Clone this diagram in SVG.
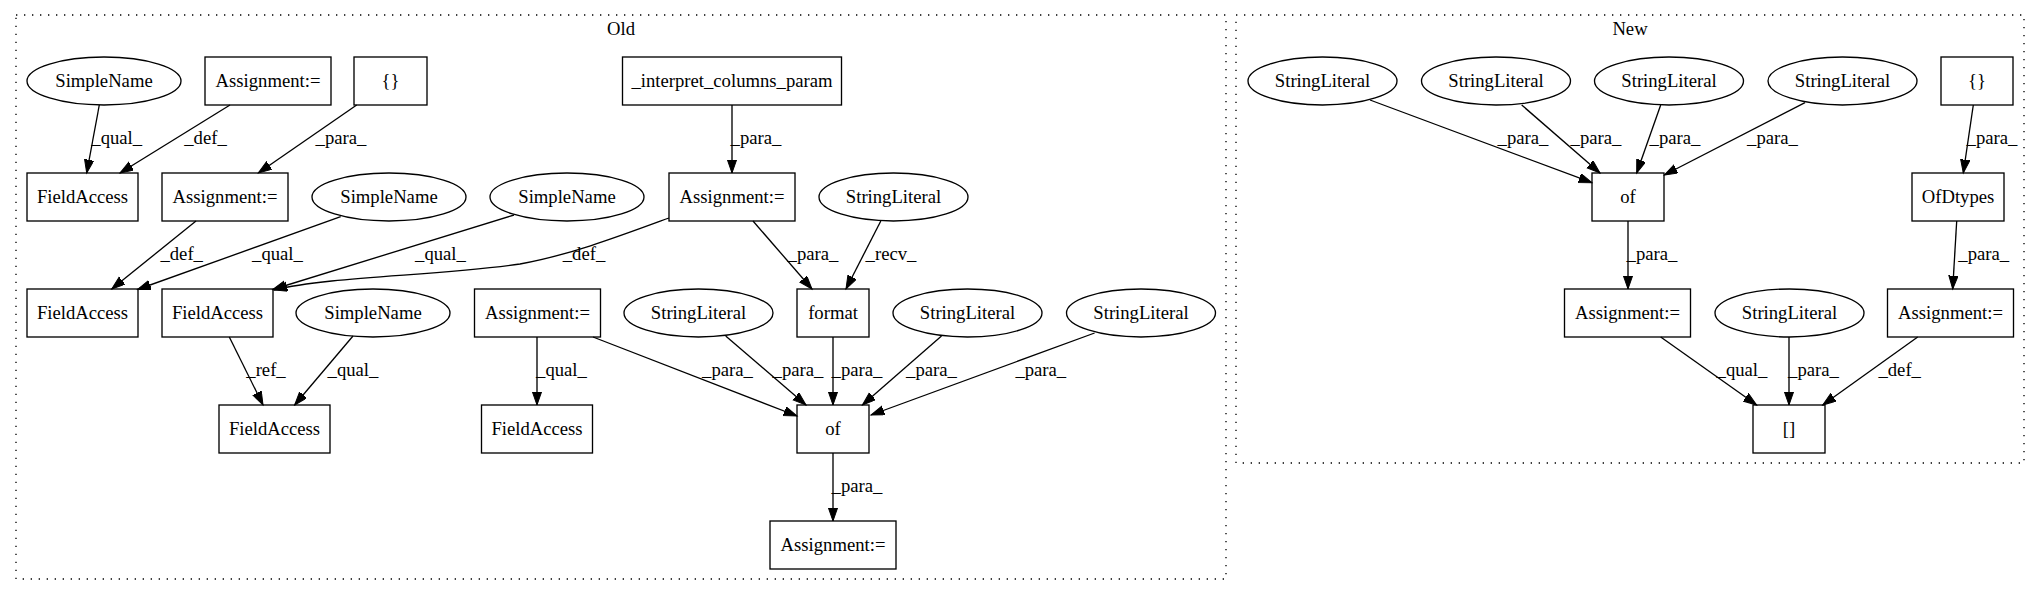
<svg xmlns="http://www.w3.org/2000/svg" width="2040" height="596" viewBox="0 0 2040 596">
<style>
text{font-family:"Liberation Serif","Times New Roman",serif;font-size:18.67px;fill:#000;text-anchor:middle}
.n{fill:none;stroke:#000;stroke-width:1.33}
.cl{fill:none;stroke:#000;stroke-width:1.33;stroke-dasharray:1.33,6.67}
.e path{fill:none;stroke:#000;stroke-width:1.33;marker-end:url(#ah)}
</style>
<defs>
<marker id="ah" markerUnits="userSpaceOnUse" markerWidth="15" markerHeight="11" refX="13.33" refY="4.67" orient="auto">
<path d="M0,0 L13.33,4.67 L0,9.33 z" fill="#000" stroke="#000" stroke-width="1"/>
</marker>
</defs>
<rect x="0" y="0" width="2040" height="596" fill="#fff"/>
<g id="cluster_old">
<rect class="cl" x="16" y="15" width="1210" height="564"/>
<text x="621" y="35">Old</text>
</g>
<g id="cluster_new">
<rect class="cl" x="1236" y="15" width="788" height="448"/>
<text x="1630" y="35">New</text>
</g>
<g id="edges" class="e">
<path d="M99.3,105 L86.7,173"/>
<path d="M230,105 L120,173"/>
<path d="M356.7,105 L258.3,173"/>
<path d="M732,105 L732,173"/>
<path d="M196,221 L111.7,289"/>
<path d="M340.7,216.7 L137.5,289.5"/>
<path d="M514,215 L272.7,289.5"/>
<path d="M669,218 C620,236 570,255 520,264 C440,276 330,276 274,290"/>
<path d="M753,221 L812,289"/>
<path d="M880.8,221 L846,289"/>
<path d="M229.3,337 L263,405"/>
<path d="M353,336 L294.6,405"/>
<path d="M537,337 L537,405"/>
<path d="M593,337 L797,416"/>
<path d="M725.7,336 L806,405"/>
<path d="M833,337 L833,405"/>
<path d="M941.5,336 L862.4,405"/>
<path d="M1094.6,333 L871,415"/>
<path d="M833,453 L833,521"/>
<path d="M1370,100 L1592,182.7"/>
<path d="M1521.7,105 L1600,173"/>
<path d="M1660.7,105 L1636.7,173"/>
<path d="M1805,102.7 L1664.3,175"/>
<path d="M1973.3,105 L1963.3,173"/>
<path d="M1628,221 L1628,289"/>
<path d="M1956.7,221 L1952.7,289"/>
<path d="M1660.7,337 L1756.7,405"/>
<path d="M1789,337 L1789,405"/>
<path d="M1917.7,337 L1822.7,405"/>
<text x="116.7" y="144">_qual_</text>
<text x="205.5" y="144">_def_</text>
<text x="341" y="144">_para_</text>
<text x="756" y="144">_para_</text>
<text x="181.7" y="260">_def_</text>
<text x="277.5" y="260">_qual_</text>
<text x="440.5" y="260">_qual_</text>
<text x="584" y="260">_def_</text>
<text x="813" y="260">_para_</text>
<text x="891" y="260">_recv_</text>
<text x="266" y="376">_ref_</text>
<text x="353" y="376">_qual_</text>
<text x="561.5" y="376">_qual_</text>
<text x="727.5" y="376">_para_</text>
<text x="798" y="376">_para_</text>
<text x="857" y="376">_para_</text>
<text x="931.5" y="376">_para_</text>
<text x="1040.8" y="376">_para_</text>
<text x="857" y="492">_para_</text>
<text x="1523" y="144">_para_</text>
<text x="1596" y="144">_para_</text>
<text x="1675" y="144">_para_</text>
<text x="1772.5" y="144">_para_</text>
<text x="1992" y="144">_para_</text>
<text x="1652" y="260">_para_</text>
<text x="1983.7" y="260">_para_</text>
<text x="1742" y="376">_qual_</text>
<text x="1813.5" y="376">_para_</text>
<text x="1899.7" y="376">_def_</text>
</g>
<g id="o1"><ellipse class="n" cx="104" cy="81" rx="77" ry="24"/><text x="104" y="87">SimpleName</text></g>
<g id="o2"><rect class="n" x="205" y="57" width="126" height="48"/><text x="268" y="87">Assignment:=</text></g>
<g id="o3"><rect class="n" x="354" y="57" width="73" height="48"/><text x="390.5" y="87">{}</text></g>
<g id="o4"><rect class="n" x="622.5" y="57" width="219" height="48"/><text x="732" y="87">_interpret_columns_param</text></g>
<g id="o5"><rect class="n" x="27" y="173" width="111" height="48"/><text x="82.5" y="203">FieldAccess</text></g>
<g id="o6"><rect class="n" x="162" y="173" width="126" height="48"/><text x="225" y="203">Assignment:=</text></g>
<g id="o7"><ellipse class="n" cx="389" cy="197" rx="77" ry="24"/><text x="389" y="203">SimpleName</text></g>
<g id="o8"><ellipse class="n" cx="567" cy="197" rx="77" ry="24"/><text x="567" y="203">SimpleName</text></g>
<g id="o9"><rect class="n" x="669" y="173" width="126" height="48"/><text x="732" y="203">Assignment:=</text></g>
<g id="o10"><ellipse class="n" cx="893.5" cy="197" rx="74.5" ry="24"/><text x="893.5" y="203">StringLiteral</text></g>
<g id="o11"><rect class="n" x="27" y="289" width="111" height="48"/><text x="82.5" y="319">FieldAccess</text></g>
<g id="o12"><rect class="n" x="162" y="289" width="111" height="48"/><text x="217.5" y="319">FieldAccess</text></g>
<g id="o13"><ellipse class="n" cx="373" cy="313" rx="77" ry="24"/><text x="373" y="319">SimpleName</text></g>
<g id="o14"><rect class="n" x="474.5" y="289" width="126" height="48"/><text x="537.5" y="319">Assignment:=</text></g>
<g id="o15"><ellipse class="n" cx="698.5" cy="313" rx="74.5" ry="24"/><text x="698.5" y="319">StringLiteral</text></g>
<g id="o16"><rect class="n" x="797" y="289" width="72" height="48"/><text x="833" y="319">format</text></g>
<g id="o17"><ellipse class="n" cx="967.5" cy="313" rx="74.5" ry="24"/><text x="967.5" y="319">StringLiteral</text></g>
<g id="o18"><ellipse class="n" cx="1141" cy="313" rx="74.5" ry="24"/><text x="1141" y="319">StringLiteral</text></g>
<g id="o19"><rect class="n" x="219" y="405" width="111" height="48"/><text x="274.5" y="435">FieldAccess</text></g>
<g id="o20"><rect class="n" x="481.5" y="405" width="111" height="48"/><text x="537" y="435">FieldAccess</text></g>
<g id="o21"><rect class="n" x="797" y="405" width="72" height="48"/><text x="833" y="435">of</text></g>
<g id="o22"><rect class="n" x="770" y="521" width="126" height="48"/><text x="833" y="551">Assignment:=</text></g>
<g id="n1"><ellipse class="n" cx="1322.5" cy="81" rx="74.5" ry="24"/><text x="1322.5" y="87">StringLiteral</text></g>
<g id="n2"><ellipse class="n" cx="1496" cy="81" rx="74.5" ry="24"/><text x="1496" y="87">StringLiteral</text></g>
<g id="n3"><ellipse class="n" cx="1669" cy="81" rx="74.5" ry="24"/><text x="1669" y="87">StringLiteral</text></g>
<g id="n4"><ellipse class="n" cx="1842.5" cy="81" rx="74.5" ry="24"/><text x="1842.5" y="87">StringLiteral</text></g>
<g id="n5"><rect class="n" x="1941" y="57" width="72" height="48"/><text x="1977" y="87">{}</text></g>
<g id="n6"><rect class="n" x="1592" y="173" width="72" height="48"/><text x="1628" y="203">of</text></g>
<g id="n7"><rect class="n" x="1912" y="173" width="92" height="48"/><text x="1958" y="203">OfDtypes</text></g>
<g id="n8"><rect class="n" x="1564.5" y="289" width="126" height="48"/><text x="1627.5" y="319">Assignment:=</text></g>
<g id="n9"><ellipse class="n" cx="1789.5" cy="313" rx="74.5" ry="24"/><text x="1789.5" y="319">StringLiteral</text></g>
<g id="n10"><rect class="n" x="1887.5" y="289" width="126" height="48"/><text x="1950.5" y="319">Assignment:=</text></g>
<g id="n11"><rect class="n" x="1753" y="405" width="72" height="48"/><text x="1789" y="435">[]</text></g>
</svg>
